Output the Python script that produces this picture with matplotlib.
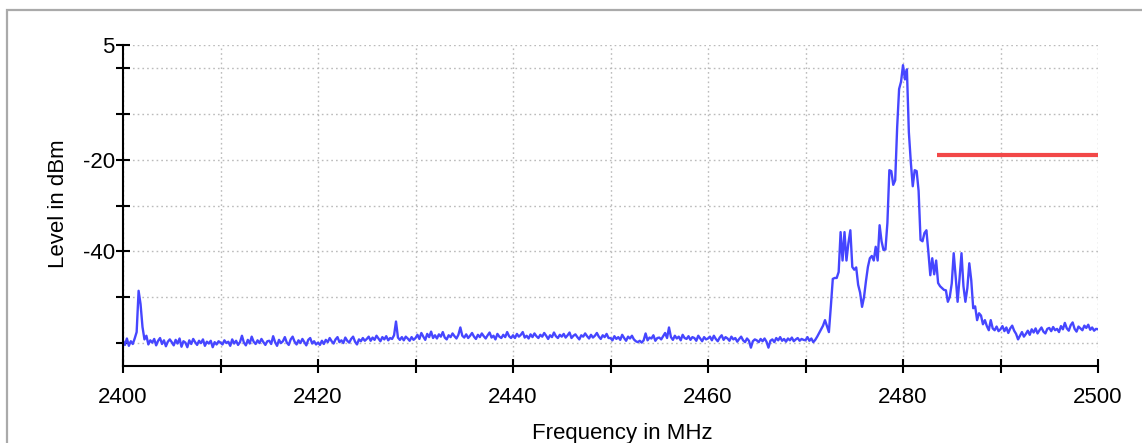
import numpy as np
import matplotlib
matplotlib.use('Agg')
import matplotlib.pyplot as plt

plt.rcParams['font.family'] = ['Liberation Sans', 'DejaVu Sans']

# measured level (dBm), sweep 2400-2500 MHz, 0.2 MHz steps
level = [
    -59.5, -60.4, -59.0, -60.6, -59.6, -60.2, -59.0, -57.6, -48.6, -51.5, -56.5, -59.2, -58.4, -60.3, -59.4, -59.9, -59.1, -60.5, -59.5, -58.9, -60.2, -59.4, -60.7, -59.7, -59.2,
    -59.8, -60.5, -59.3, -60.1, -59.0, -60.8, -59.6, -59.9, -60.9, -59.4, -60.2, -59.1, -59.8, -60.4, -59.5, -60.0, -59.2, -60.6, -59.7, -60.1, -59.5, -60.9, -59.8, -60.3, -59.6,
    -59.9, -60.3, -59.4, -60.0, -59.7, -60.6, -59.2, -60.1, -59.5, -60.4, -59.8, -58.4, -59.9, -60.5, -59.3, -60.1, -58.6, -59.7, -60.2, -59.4, -60.0, -59.1, -59.8, -60.4, -59.6,
    -59.5, -60.2, -58.5, -59.8, -60.6, -59.3, -60.0, -59.6, -58.7, -59.9, -60.4, -59.2, -58.6, -59.7, -60.3, -59.4, -60.0, -59.1, -59.8, -60.5, -59.3, -58.9, -60.1, -59.6, -60.3,
    -59.9, -60.4, -59.5, -60.2, -59.3, -59.8, -58.9, -59.6, -60.1, -59.2, -58.7, -59.8, -59.4, -60.0, -58.8, -59.5, -59.9, -59.1, -58.6, -59.7, -60.3, -59.2, -59.6, -58.9, -59.5,
    -59.1, -58.6, -59.5, -58.8, -59.3, -58.4, -59.0, -59.6, -58.7, -59.2, -58.5, -59.4, -58.9, -59.1, -58.3, -55.3, -58.8, -59.3, -58.7, -59.4, -58.6, -59.0, -59.5, -58.7, -59.3,
    -58.9, -58.2, -59.1, -57.8, -58.6, -59.3, -58.0, -58.7, -57.5, -58.9, -58.3, -59.0, -58.1, -58.6, -57.6, -58.8, -59.2, -58.3, -58.7, -57.9, -58.5, -59.0, -58.2, -56.6, -58.4,
    -58.8, -58.1, -58.9, -58.4, -57.8, -58.6, -59.1, -58.2, -58.7, -57.9, -58.5, -59.0, -58.3, -57.7, -58.8, -58.4, -59.2, -58.0, -58.6, -58.9, -58.2, -58.7, -57.6, -58.5, -58.9,
    -58.3, -58.9, -58.0, -58.6, -58.2, -57.6, -58.8, -58.4, -59.0, -58.1, -58.7, -57.9, -58.5, -58.9, -58.2, -58.6, -57.8, -58.4, -59.1, -58.3, -58.7, -57.7, -58.5, -58.9, -58.2,
    -58.6, -58.0, -58.8, -58.3, -57.7, -58.9, -58.4, -58.1, -58.7, -59.2, -58.3, -58.6, -57.9, -58.5, -59.0, -58.2, -58.8, -58.4, -57.8, -58.6, -59.1, -58.3, -58.7, -58.0, -58.9,
    -58.9, -59.4, -58.5, -59.1, -58.7, -59.3, -58.2, -58.9, -59.5, -58.6, -59.0, -58.4, -59.2, -59.6, -59.8, -59.5, -59.9, -59.4, -57.9, -59.4, -58.8, -59.0, -58.3, -59.5, -58.9,
    -58.8, -59.2, -58.5, -57.8, -58.9, -56.6, -58.7, -59.3, -58.4, -59.0, -58.6, -59.4, -58.2, -58.9, -59.1, -58.5, -59.3, -58.7, -58.9, -59.5, -58.4, -59.0, -59.6, -58.7, -59.2,
    -59.0, -58.6, -59.4, -58.4, -59.1, -59.6, -58.8, -58.3, -59.3, -58.7, -59.0, -59.5, -58.6, -59.2, -58.9, -59.7, -59.1, -58.6, -59.4, -59.8, -59.0, -59.5, -61.0, -59.6, -59.2,
    -59.4, -59.8, -59.1, -59.6, -59.0, -59.7, -61.0, -59.5, -59.2, -59.8, -58.9, -59.4, -58.7, -59.5, -59.1, -59.7, -59.0, -59.4, -58.8, -59.6, -59.2, -58.9, -59.5, -59.1, -59.3,
    -59.4, -58.7, -59.5, -59.0, -59.8, -59.3, -58.6, -57.8, -57.0, -56.2, -55.0, -56.3, -57.6, -52.0, -46.0, -45.8, -45.8, -44.5, -35.8, -42.0, -35.8, -42.0, -38.2, -35.4, -43.4,
    -44.0, -43.5, -47.3, -49.0, -52.1, -50.0, -46.5, -43.4, -41.5, -41.0, -42.0, -39.0, -42.0, -34.3, -37.8, -39.7, -39.6, -33.8, -22.3, -22.5, -25.5, -24.5, -13.0, -4.6, -3.0,
    0.6, -2.5, -0.3, -14.0, -20.5, -25.8, -22.3, -22.5, -26.8, -37.5, -37.8, -36.0, -35.4, -40.1, -45.2, -41.5, -45.0, -42.0, -46.9, -47.6, -48.0, -48.4, -48.5, -51.0, -49.9,
    -47.0, -40.4, -45.5, -51.0, -45.9, -40.4, -47.6, -51.0, -48.0, -42.6, -46.3, -52.4, -52.0, -55.0, -53.5, -54.0, -55.9, -55.0, -56.3, -57.2, -55.0, -56.8, -57.2, -56.4, -57.4,
    -57.0, -56.3, -57.4, -56.6, -57.8, -56.8, -56.2, -57.3, -58.0, -59.2, -58.4, -57.6, -58.6, -58.0, -57.3, -58.2, -57.0, -57.7, -56.8, -57.9, -57.2, -56.6, -57.5, -57.9, -56.9,
    -56.7, -57.4, -56.5, -57.2, -56.9, -57.6, -56.3, -57.0, -55.6, -56.8, -57.3, -56.1, -55.5, -56.9, -57.5, -56.4, -56.8, -57.2, -56.2, -56.7, -56.0, -57.1, -56.6, -57.3, -56.9,
    -57.0,
]
freq = np.linspace(2400, 2500, len(level))

# limit line
limit_freq = [2483.5, 2500]
limit_level = [-19, -19]

x_ticks = list(range(2400, 2501, 10))
x_labels = ['2400', '', '2420', '', '2440', '', '2460', '', '2480', '', '2500']
y_ticks = [5, 0, -10, -20, -30, -40, -50, -60]
y_labels = ['5', '', '', '-20', '', '-40', '', '']

fig = plt.figure(figsize=(11.42, 4.43), dpi=100)
# grey frame around the panel
fig.patches.append(plt.Rectangle((7 / 1142, -0.2), 1.2, 1.2 - 10 / 443,
                                 transform=fig.transFigure, fill=False,
                                 edgecolor='#aaaaaa', linewidth=1.6))

ax = fig.add_axes([123 / 1142, 1 - 366 / 443, 975 / 1142, 321 / 443])

ax.plot(freq, level, color='#4646ff', linewidth=1.7)
ax.plot(limit_freq, limit_level, color='#f24848', linewidth=3.0, solid_capstyle='butt')

ax.set_xlim(2400, 2500)
ax.set_ylim(-65, 5)
ax.set_xticks(x_ticks)
ax.set_xticklabels(x_labels)
ax.set_yticks(y_ticks)
ax.set_yticklabels(y_labels)

for s in ['top', 'right']:
    ax.spines[s].set_visible(False)
for s in ['left', 'bottom']:
    ax.spines[s].set_linewidth(1.5)

ax.tick_params(axis='both', direction='inout', length=10, width=1.5, labelsize=16)
ax.tick_params(axis='x', pad=10)
ax.tick_params(axis='y', pad=1)

ax.grid(True, color='#bbbbbb', linestyle=(0, (1.2, 2.2)), linewidth=1.0)
ax.set_axisbelow(True)

ax.set_xlabel('Frequency in MHz', fontsize=16)
ax.set_ylabel('Level in dBm', fontsize=16)
ax.xaxis.set_label_coords(0.512, -0.178)
ax.yaxis.set_label_coords(-0.055, 0.505)

plt.savefig('out.png', dpi=100)
